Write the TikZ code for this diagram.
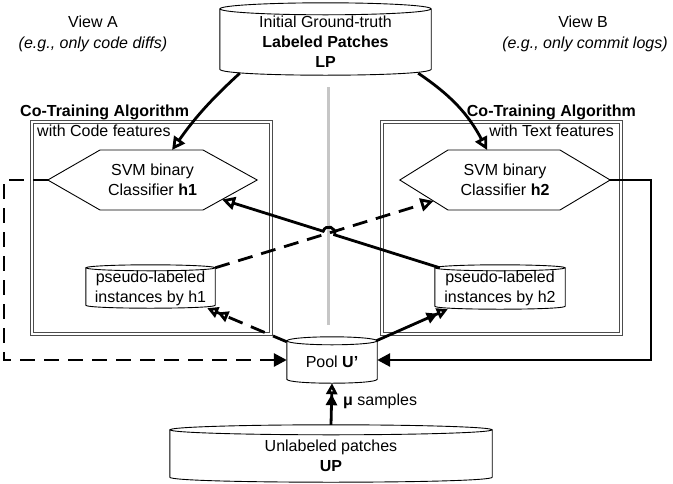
\documentclass[tikz,border=0pt]{standalone}
\usepackage{fontspec}
\setmainfont{Liberation Sans}
\usetikzlibrary{arrows.meta,calc}
\newcommand\fsz{\fontsize{16}{20}\selectfont}
% name, y-radius, x-radius
\newcommand\mycyl[3]{%
  \draw[thinline, fill=white] (#1.north west) -- ($(#1.south west)+(0,-#2)$)
     .. controls +(0,1.333*#2) and +(0,1.333*#2) .. ($(#1.south east)+(0,-#2)$)
     -- (#1.north east);
  \draw[thinline, fill=white] (#1.north) ellipse[x radius=#3pt, y radius=#2pt];
}
\tikzset{
  txt/.style={font=\fsz, align=center, inner sep=0pt},
  thinline/.style={line width=0.9pt, draw=black},
  boxline/.style={draw=black!70, line width=1pt, double=white, double distance=2pt},
  thickarr/.style={line width=2.8pt, draw=black},
  dsh/.style={dash pattern=on 15pt off 9pt},
  otip/.style={-{Triangle[open,length=13pt,width=13pt]}},
  dotip/.style={-{Triangle[open,length=11pt,width=11pt] Triangle[open,length=11pt,width=11pt]}},
  ftip/.style={-{Triangle[length=13pt,width=13pt]}},
}
\begin{document}
\begin{tikzpicture}[x=1pt,y=-1pt]
\fill[white] (0,0) rectangle (673,483);
\useasboundingbox (0,0) rectangle (673,483);

% view labels
\node[txt] (va) at (93,22) {View A};
\node[txt, font=\fsz\itshape] (vae) at (93,44) {(e.g., only code diffs)};
\node[txt] (vb) at (583,22) {View B};
\node[txt, font=\fsz\itshape] (vbe) at (585,44) {(e.g., only commit logs)};

% co-training boxes
\draw[boxline] (31.5,121.5) rectangle (270.5,333.5);
\draw[boxline] (381.5,121.5) rectangle (620.5,333.5);
\node[txt, font=\fsz\bfseries, anchor=base west] (cta) at (20,116) {Co-Training Algorithm};
\node[txt, anchor=base west] (wca) at (37,136) {with Code features};
\node[txt, font=\fsz\bfseries, anchor=base east] (ctb) at (636,116) {Co-Training Algorithm};
\node[txt, anchor=base east] (wtb) at (614,136) {with Text features};

% gray separator
\draw[line width=3pt, gray!45] (328,87) -- (328,325);

% cylinders
\node[txt, minimum width=211pt, minimum height=66pt] (lp) at (325.5,42) {};
\node[txt, minimum width=90pt, minimum height=42pt] (pool) at (332,362) {};
\node[txt, minimum width=322pt, minimum height=52pt] (up) at (331,456) {};
\node[txt, minimum width=129pt, minimum height=40pt] (p1) at (150.5,288) {};
\node[txt, minimum width=130pt, minimum height=41pt] (p2) at (500,288.5) {};
\mycyl{lp}{6}{105.5}
\mycyl{pool}{4}{45}
\mycyl{up}{5}{161}
\mycyl{p1}{3}{64.5}
\mycyl{p2}{3}{65}
\node[txt] (lpt) at (lp) {Initial Ground-truth\\\textbf{Labeled Patches}\\\textbf{LP}};
\node[txt] (poolt) at (pool) {Pool \textbf{U’}};
\node[txt] (upt) at (up) {Unlabeled patches\\\textbf{UP}};
\node[txt] (p1t) at (p1) {pseudo-labeled\\instances by h1};
\node[txt] (p2t) at (p2) {pseudo-labeled\\instances by h2};

% hexagons
\coordinate (h1tl) at (100,150); \coordinate (h1tr) at (203,150);
\coordinate (h1br) at (203,210); \coordinate (h1bl) at (100,210);
\coordinate (h2tl) at (448,150); \coordinate (h2tr) at (560,150);
\coordinate (h2br) at (560,210); \coordinate (h2bl) at (448,210);
\node[txt, minimum width=209pt, minimum height=60pt] (h1) at (152.5,180) {};
\node[txt, minimum width=210pt, minimum height=60pt] (h2) at (505,180) {};
\draw[thinline, fill=white] (h1.west) -- (h1tl) -- (h1tr) -- (h1.east) -- (h1br) -- (h1bl) -- cycle;
\draw[thinline, fill=white] (h2.west) -- (h2tl) -- (h2tr) -- (h2.east) -- (h2br) -- (h2bl) -- cycle;
\node[txt] (h1t) at (h1) {SVM binary\\Classifier \textbf{h1}};
\node[txt] (h2t) at (h2) {SVM binary\\Classifier \textbf{h2}};

% LP to classifiers
\draw[thickarr, otip] ($(lp.south west)+(20,-2)$) to[bend right=6] ($(h1tl)!0.7!(h1tr)$);
\draw[thickarr, otip] ($(lp.south east)+(-13,-2)$) to[bend left=14] ($(h2tl)!0.35!(h2tr)$);

% classifiers back to pool
\draw[thickarr, dsh, ftip] (h1.west) -- (4,180) |- ([yshift=2pt]pool.west);
\draw[thickarr, ftip] (h2.east) -- (651,180) |- ([yshift=2pt]pool.east);

% cross exchange
\coordinate (p1s) at (p1.north east);
\coordinate (t2) at ($(h2.west)!0.7!(h2bl)$);
\coordinate (p2s) at ($(p2.north west)+(5,0)$);
\coordinate (t1) at ($(h1.east)!0.65!(h1br)$);
\coordinate (X) at (intersection of p2s--t1 and p1s--t2);
\coordinate (hopA) at ($(X)!6pt!(p2s)$);
\coordinate (hopB) at ($(X)!6pt!(t1)$);
\coordinate (cA) at ($(hopA)!8pt!-90:(hopB)$);
\coordinate (cB) at ($(hopB)!8pt!90:(hopA)$);
\draw[thickarr, dsh, otip] (p1s) -- (t2);
\draw[thickarr, otip] (p2s) -- (hopA) .. controls (cA) and (cB) .. (hopB) -- (t1);

% pool to pseudo-labeled sets
\draw[thickarr, dsh, dotip] ($(pool.north west)+(0,1)$) -- ($(p1.south east)+(-8,0)$);
\draw[thickarr, dotip] ($(pool.north east)+(-1,0)$) -- ($(p2.south west)+(13,0)$);

% UP to pool
\draw[thickarr, dotip] ($(up.north)+(0,-5)$) -- (pool.south);
\node[txt, anchor=west] (mu) at (343,401) {\textbf{μ} samples};
\end{tikzpicture}
\end{document}
